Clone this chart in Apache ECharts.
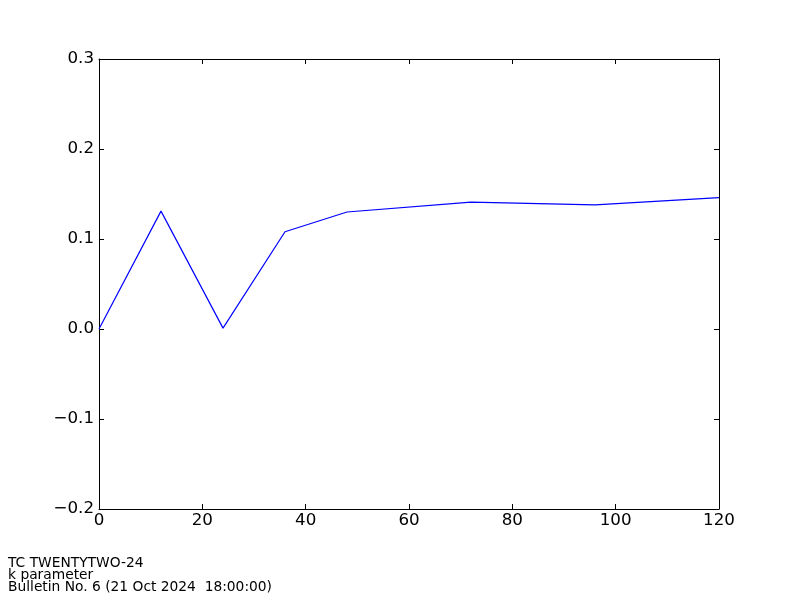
<!DOCTYPE html>
<html><head><meta charset="utf-8">
<script src="https://cdn.jsdelivr.net/npm/echarts@6/dist/echarts.min.js"></script>
<style>html,body{margin:0;padding:0;background:#fff}#c{width:800px;height:600px}</style>
</head><body><div id="c"></div>
<script>
const hours = [0, 12, 24, 36, 48, 72, 96, 120];
const kValues = [0.0, 0.131, 0.001, 0.108, 0.130, 0.141, 0.138, 0.146];
const xTicks = [0, 20, 40, 60, 80, 100, 120];
const yTicks = [-0.2, -0.1, 0.0, 0.1, 0.2, 0.3];
const footerLines = ['TC TWENTYTWO-24', 'k parameter', 'Bulletin No. 6 (21 Oct 2024  18:00:00)'];

const chart = echarts.init(document.getElementById('c'), null, {renderer: 'canvas'});
const font = 'DejaVu Sans';
const lineStyle = {color: '#000', width: 1};
const tick = {show: true, inside: true, length: 5, lineStyle: {color: '#000'}};
function fmtY(v) { const s = Math.abs(v).toFixed(1); return v < -1e-9 ? '\u2212' + s : s; }
const xBase = {type: 'value', min: 0, max: 120, interval: 20, splitLine: {show: false},
  axisLine: {show: true, onZero: false, lineStyle}, axisTick: tick};
const yBase = {type: 'value', min: -0.2, max: 0.3, interval: 0.1, splitLine: {show: false},
  axisLine: {show: true, onZero: false, lineStyle}, axisTick: tick};
chart.setOption({
  animation: false,
  grid: {left: 99, top: 59, width: 620, height: 450, containLabel: false},
  xAxis: [
    Object.assign({}, xBase, {position: 'bottom', axisLabel: {fontFamily: font, fontSize: 16.7, color: '#000', margin: 3,
      formatter: v => String(v)}}),
    Object.assign({}, xBase, {position: 'top', axisLabel: {show: false}})
  ],
  yAxis: [
    Object.assign({}, yBase, {position: 'left', axisLabel: {fontFamily: font, fontSize: 16.7, color: '#000', margin: 5,
      padding: [4, 0, 0, 0], formatter: fmtY}}),
    Object.assign({}, yBase, {position: 'right', axisLabel: {show: false}})
  ],
  series: [{
    type: 'line', data: hours.map((h, i) => [h, kValues[i]]), showSymbol: false,
    lineStyle: {color: '#0000ff', width: 1.2}, xAxisIndex: 0, yAxisIndex: 0
  }],
  graphic: footerLines.map((t, i) => ({
    type: 'text', left: 8, top: 556 + i * 12,
    style: {text: t, fontFamily: font, fontSize: 13.8, fill: '#000'}
  }))
});
</script></body></html>
